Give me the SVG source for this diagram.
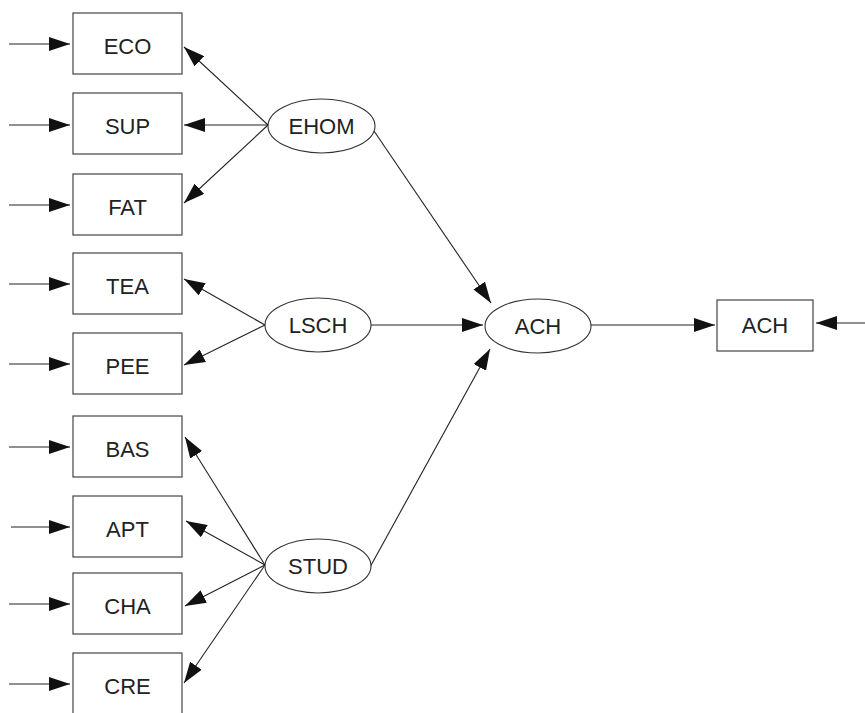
<svg xmlns="http://www.w3.org/2000/svg" width="865" height="713" viewBox="0 0 865 713">
<defs>
<marker id="ah" markerUnits="userSpaceOnUse" markerWidth="21" markerHeight="14" refX="21" refY="7" orient="auto">
<path d="M0,0 L21,7 L0,14 z" fill="#111"/>
</marker>
<style>
.box{fill:#fff;stroke:#444;stroke-width:1.2}
.ell{fill:#fff;stroke:#333;stroke-width:1.1}
.lbl{font-family:"Liberation Sans",Arial,sans-serif;font-size:22px;fill:#222;text-anchor:middle}
.c line{stroke:#222;stroke-width:1.1;marker-end:url(#ah)}
</style>
</defs>
<rect width="865" height="713" fill="#fff"/>
<g class="c" id="connectors">
<line x1="9" y1="44" x2="70" y2="44"/>
<line x1="9" y1="125" x2="70" y2="125"/>
<line x1="9" y1="205" x2="70" y2="205"/>
<line x1="9" y1="284" x2="70" y2="284"/>
<line x1="9" y1="364" x2="70" y2="364"/>
<line x1="9" y1="447" x2="70" y2="447"/>
<line x1="11" y1="527" x2="70" y2="527"/>
<line x1="9" y1="604" x2="70" y2="604"/>
<line x1="9" y1="684" x2="70" y2="684"/>
<line x1="268" y1="125" x2="184" y2="47"/>
<line x1="268" y1="125" x2="184" y2="125"/>
<line x1="268" y1="125" x2="184" y2="203"/>
<line x1="265" y1="325" x2="184" y2="279"/>
<line x1="265" y1="325" x2="184" y2="365"/>
<line x1="265" y1="565" x2="185" y2="437"/>
<line x1="265" y1="565" x2="186" y2="521"/>
<line x1="265" y1="565" x2="185" y2="606"/>
<line x1="265" y1="565" x2="184" y2="683"/>
<line x1="374" y1="131" x2="491" y2="303"/>
<line x1="371" y1="325" x2="483" y2="325"/>
<line x1="369" y1="569" x2="490" y2="349"/>
<line x1="591" y1="325" x2="715" y2="325"/>
<line x1="865" y1="323" x2="816" y2="323"/>
</g>
<g id="ECO"><rect class="box" x="73" y="13" width="109" height="61"/><text class="lbl" x="127.5" y="54">ECO</text></g>
<g id="SUP"><rect class="box" x="73" y="93" width="109" height="61"/><text class="lbl" x="127.5" y="134">SUP</text></g>
<g id="FAT"><rect class="box" x="73" y="174" width="109" height="61"/><text class="lbl" x="127.5" y="215">FAT</text></g>
<g id="TEA"><rect class="box" x="73" y="253" width="109" height="61"/><text class="lbl" x="127.5" y="294">TEA</text></g>
<g id="PEE"><rect class="box" x="73" y="333" width="109" height="61"/><text class="lbl" x="127.5" y="374">PEE</text></g>
<g id="BAS"><rect class="box" x="73" y="416" width="109" height="61"/><text class="lbl" x="127.5" y="457">BAS</text></g>
<g id="APT"><rect class="box" x="73" y="496" width="109" height="61"/><text class="lbl" x="127.5" y="537">APT</text></g>
<g id="CHA"><rect class="box" x="73" y="573" width="109" height="61"/><text class="lbl" x="127.5" y="614">CHA</text></g>
<g id="CRE"><rect class="box" x="73" y="653" width="109" height="61"/><text class="lbl" x="127.5" y="694">CRE</text></g>
<g id="EHOM"><ellipse class="ell" cx="321.5" cy="126" rx="53.5" ry="27"/><text class="lbl" x="321.5" y="134">EHOM</text></g>
<g id="LSCH"><ellipse class="ell" cx="318" cy="325" rx="53" ry="27"/><text class="lbl" x="318" y="333">LSCH</text></g>
<g id="STUD"><ellipse class="ell" cx="318" cy="566" rx="53" ry="27"/><text class="lbl" x="318" y="574">STUD</text></g>
<g id="ACH_latent"><ellipse class="ell" cx="538" cy="326" rx="53" ry="27"/><text class="lbl" x="538" y="334">ACH</text></g>
<g id="ACH_obs"><rect class="box" x="717" y="300" width="96" height="51"/><text class="lbl" x="765" y="333">ACH</text></g>
</svg>
